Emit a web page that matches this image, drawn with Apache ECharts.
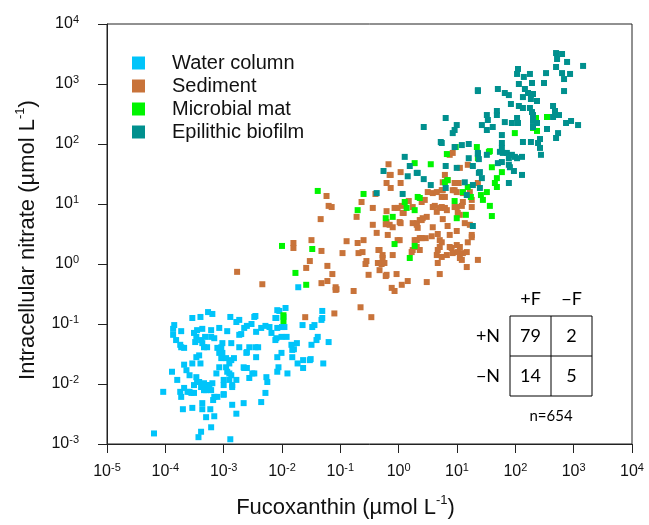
<!DOCTYPE html>
<html lang="en">

<head>
    <meta charset="UTF-8">
    <title>Nitrate vs fucoxanthin</title>
    <style>
        html, body { margin: 0; padding: 0; background: #fff; }
        #chart { width: 649px; height: 525px; }
    </style>
</head>

<body>
    <div id="chart"></div>
    <script src="https://cdn.jsdelivr.net/npm/echarts@6/dist/echarts.min.js"></script>
    <script type="text/javascript">
        // categories & colours
        const groups = ['Water column', 'Sediment', 'Microbial mat', 'Epilithic biofilm'];
        const groupColors = ['#00C4FA', '#C8733A', '#00F500', '#00908E'];

        // axis ranges (log10)
        const xRange = [1e-5, 1e4];
        const yRange = [1e-3, 1e4];

        // contingency table
        const colHeads = ['+F', '\u2212F'];
        const rowHeads = ['+N', '\u2212N'];
        const counts = [[79, 2], [14, 5]];
        const nLabel = 'n=654';

        // [fucoxanthin, nitrate] µmol/L
        const waterColumn = [
            [5.4e-4, 0.158], [6.4e-4, 0.147], [2.9e-4, 0.126], [4.0e-4, 0.131], [1.42e-4, 0.096], [1.87e-4, 0.076], [1.36e-4, 0.066], [1.53e-4, 0.054], [1.8e-4, 0.045], [2.1e-4, 0.040],
            [3.1e-4, 0.071], [3.5e-4, 0.079], [4.3e-4, 0.083], [3.4e-4, 0.061], [4.1e-4, 0.054], [4.8e-4, 0.061], [6.1e-4, 0.061], [6.9e-4, 0.058], [8.4e-4, 0.086], [1.15e-3, 0.076],
            [1.3e-3, 0.131], [1.65e-3, 0.108], [2.25e-3, 0.086], [2.0e-3, 0.068], [2.5e-3, 0.093], [3.0e-3, 0.1], [3.5e-3, 0.136], [3.6e-3, 0.074], [4.4e-3, 0.086], [5.2e-3, 0.093],
            [6.1e-3, 0.089], [6.6e-3, 0.071], [8.0e-3, 0.126], [9.0e-3, 0.165], [1.15e-2, 0.185], [1.06e-2, 0.131], [1.0e-2, 0.089], [8.3e-3, 0.086], [8.0e-3, 0.058], [9.8e-3, 0.061],
            [1.2e-2, 0.061], [1.45e-2, 0.045], [1.8e-2, 0.048], [1.5e-2, 0.037], [2.25e-2, 0.096], [3.3e-2, 0.089], [3.6e-2, 0.096], [4.9e-2, 0.165], [4.9e-2, 0.126], [4.75e-2, 0.117],
            [4.1e-2, 0.061], [3.9e-2, 0.054], [3.2e-2, 0.045], [6.3e-2, 0.050], [5.1e-2, 0.022], [3.0e-2, 0.025], [2.3e-2, 0.025], [2.3e-2, 0.0185], [1.85e-2, 0.022], [1.5e-2, 0.028],
            [1.24e-2, 0.015], [9.8e-3, 0.033], [8.3e-3, 0.028], [8.7e-3, 0.019], [5.4e-3, 0.013], [5.6e-3, 0.0108], [5.2e-3, 0.0071], [4.4e-3, 0.0050], [3.6e-3, 0.028], [3.9e-3, 0.041],
            [2.75e-3, 0.041], [2.45e-3, 0.033], [1.85e-3, 0.041], [2.2e-3, 0.019], [2.5e-3, 0.0185], [2.75e-3, 0.0126], [3.1e-3, 0.015], [1.65e-3, 0.0117], [1.4e-3, 0.0089], [1.35e-3, 0.025],
            [1.35e-3, 0.048], [9.5e-4, 0.048], [9.1e-4, 0.027], [1.1e-3, 0.019], [1.25e-3, 0.015], [1.0e-3, 0.0117], [1.0e-3, 0.0068], [8.4e-4, 0.019], [7.5e-4, 0.015], [6.4e-4, 0.0103],
            [6.9e-4, 0.0061], [6.1e-4, 0.0079], [5.0e-4, 0.0096], [4.6e-4, 0.0079], [4.1e-4, 0.0089], [3.5e-4, 0.0108], [3.4e-4, 0.013], [3.1e-4, 0.0096], [2.8e-4, 0.0071], [2.4e-4, 0.0074],
            [1.8e-4, 0.0074], [1.87e-4, 0.0061], [1.6e-4, 0.0117], [1.3e-4, 0.016], [9.2e-5, 0.0074], [2.1e-4, 0.021], [2.3e-4, 0.017], [2.6e-4, 0.014], [2.9e-4, 0.022], [3.4e-4, 0.028],
            [3.8e-4, 0.030], [4.3e-4, 0.048], [5.2e-4, 0.041], [7.8e-4, 0.040], [8.4e-4, 0.033], [2.0e-4, 0.0038], [2.9e-4, 0.0040], [4.3e-4, 0.0048], [4.3e-4, 0.0038], [5.9e-4, 0.0038],
            [6.9e-4, 0.0029], [5.0e-4, 0.0028], [6.1e-4, 0.0019], [4.1e-4, 0.0016], [3.7e-4, 0.0013], [6.4e-5, 0.0015], [1.3e-3, 0.0012], [1.4e-3, 0.0045], [1.65e-3, 0.0032], [2.2e-3, 0.0048],
            [1.9e-2, 0.41],
            [1.1e-3, 0.027], [1.25e-3, 0.022], [1.5e-3, 0.027], [1.15e-3, 0.016], [1.35e-3, 0.014], [1.25e-3, 0.0117], [1.0e-3, 0.0096], [1.4e-3, 0.0096], [3.8e-4, 0.0108], [4.6e-4, 0.0103],
            [5.7e-4, 0.0096], [5.0e-4, 0.0079], [2.1e-4, 0.0086], [2.6e-4, 0.0074], [3.1e-4, 0.0071], [7.8e-4, 0.0061], [6.6e-4, 0.0054], [1.0e-3, 0.0066], [2.5e-3, 0.034], [2.25e-3, 0.0185],
            [3.35e-3, 0.015], [3.5e-3, 0.041], [3.35e-3, 0.131], [1.85e-3, 0.117], [1.85e-3, 0.066], [7.7e-3, 0.054], [8.3e-3, 0.17], [1.87e-4, 0.041], [1.36e-4, 0.083], [6.1e-4, 0.079],
            [4.0e-4, 0.022], [1.1e-2, 0.089], [7.7e-3, 0.126], [1.6e-2, 0.038], [3.1e-2, 0.026], [8.3e-3, 0.016], [3.25e-4, 0.050], [4.6e-4, 0.041], [9.1e-4, 0.041], [9.5e-4, 0.033]
        ];

        const sediment = [
            [1.7e-3, 0.74], [4.6e-3, 0.46], [1.57e-2, 2.24], [1.57e-2, 1.85], [3.2e-2, 2.5], [3.0e-2, 1.12], [2.6e-2, 0.86], [4.75e-2, 1.65], [4.6e-2, 5.6], [6.0e-2, 0.93],
            [7.3e-2, 0.68], [6.0e-2, 0.52], [4.75e-2, 0.48], [8.3e-2, 0.41], [8.6e-2, 0.38], [0.128, 2.4], [0.109, 1.52], [0.169, 0.355], [0.222, 0.19], [0.34, 0.13],
            [7.9e-2, 0.15], [2.5e-2, 0.13], [6.3e-2, 9.3], [7.1e-2, 8.9], [5.8e-2, 13.6], [0.19, 6.1], [0.231, 10.8], [0.36, 8.6], [0.198, 2.24], [0.25, 2.5],
            [0.205, 1.52], [0.24, 1.58], [0.28, 1.12], [0.27, 1.0], [0.305, 0.66], [0.42, 3.3], [0.36, 4.5], [0.45, 1.71], [0.53, 1.26], [0.55, 1.04],
            [0.44, 1.04], [0.60, 0.63], [0.62, 7.6], [0.85, 8.6], [0.96, 8.6], [0.60, 4.6], [0.70, 4.5], [0.65, 3.05], [0.79, 1.41], [0.96, 2.5],
            [1.08, 4.8], [0.92, 0.68], [0.76, 0.40], [0.85, 0.355], [1.13, 0.45], [1.43, 0.52], [1.17, 7.1], [0.51, 1.0], [0.47, 0.79], [0.79, 4.1],
            [0.62, 22.4], [0.73, 18.5], [0.70, 30.5], [1.08, 22.4], [2.04, 4.8], [2.04, 2.5], [1.67, 1.58], [1.49, 11.2], [1.74, 8.9], [8.3e-2, 0.37],
            [0.40, 14.7], [8.45, 71], [7.5, 66], [11.2, 40], [6.2, 30.5], [6.7, 25], [5.7, 23], [3.15, 15.8], [3.84, 15.2], [4.5, 15.8],
            [5.7, 17], [5.48, 13.1], [6.2, 13.1], [8.45, 17], [9.9, 15.8], [10.7, 22.4], [2.8, 11.7], [2.48, 10.8], [4.16, 9.3], [5.06, 8.6],
            [6.2, 8.6], [9.9, 8.9], [12.6, 10.8], [17.9, 8.9], [4.5, 7.4], [6.7, 7.9], [17.9, 11.7], [10.3, 7.1], [11.2, 6.6], [3.03, 6.1],
            [2.58, 5.8], [2.3, 5.4], [1.74, 4.8], [2.04, 4.5], [2.12, 4.0], [5.7, 5.6], [13.6, 4.8], [16.6, 4.5], [6.9, 4.3], [9.9, 3.55],
            [4.68, 3.16], [3.69, 2.9], [2.91, 2.7], [2.3, 2.7], [1.88, 2.5], [7.5, 3.05], [17.9, 2.8], [5.06, 2.5], [15.3, 2.3], [2.04, 1.92],
            [2.3, 1.71], [5.06, 1.92], [4.68, 1.71], [9.9, 2.07], [11.2, 1.92], [8.1, 1.85], [4.5, 1.41], [5.48, 1.31], [6.7, 1.41], [8.45, 1.52],
            [10.3, 1.58], [12.6, 1.52], [14.7, 1.58], [11.2, 1.26], [22.8, 1.17], [4.68, 1.04], [14.7, 0.89], [5.06, 0.68], [3.03, 0.50], [0.67, 46],
            [0.73, 30.5], [1.08, 34], [9.1, 22.4], [22.8, 22.4], [15.3, 45], [12.6, 15.2], [16.6, 15.8], [1.13, 9.3], [1.22, 7.1], [3.84, 8.9],
            [5.48, 8.9], [9.1, 8.9], [12.1, 9.3], [0.62, 5.0], [1.04, 5.0], [2.48, 5.4], [3.84, 4.1], [17.9, 3.05], [1.04, 2.5], [2.48, 2.7],
            [5.48, 2.3], [7.5, 1.92], [0.47, 1.71], [0.53, 1.41], [1.74, 1.71], [12.1, 1.17], [0.57, 1.04], [0.62, 0.66], [6.9, 25], [9.1, 17],
            [5.48, 17]
        ];

        const microbialMat = [
            [4.1e-2, 16.5], [0.25, 14.7], [0.198, 7.9], [0.60, 5.8], [0.79, 6.1], [1.27, 10.8], [1.37, 8.6], [1.88, 7.9], [2.12, 13.1], [1.0e-2, 2.0],
            [3.3e-2, 1.78], [0.85, 2.15], [1.88, 2.0], [1.55, 1.26], [1.7e-2, 0.71], [2.6e-2, 0.45], [1.06e-2, 0.14], [1.06e-2, 0.112], [6.7, 68], [21.9, 89],
            [22.8, 58], [35.2, 74], [1.88, 48], [3.55, 46], [39.6, 41], [58.8, 34], [6.2, 23], [6.9, 25], [12.6, 15.8], [15.3, 19.2],
            [32.5, 15.8], [44.6, 22.4], [48.3, 27], [48.3, 19.2], [25.7, 14.1], [27.8, 11.7], [17.3, 13.1], [2.3, 12.6], [9.1, 11.2], [36.6, 9.3],
            [39.6, 6.3], [14.2, 6.6], [9.9, 5.8], [349, 282], [226, 271], [201, 185], [235, 165], [98, 152], [36.6, 76], [9.5, 89]
        ];

        const epilithicBiofilm = [
            [499, 3280], [632, 3160], [519, 2610], [771, 2330], [1450, 2000], [499, 1920], [111, 1780], [107, 1470], [178, 1470], [140, 1310],
            [336, 1520], [632, 1520], [867, 1470], [684, 1210], [310, 1040], [193, 1040], [115, 1000], [684, 763], [22.8, 763], [50.2, 826],
            [66, 708], [77.5, 654], [146, 826], [165, 708], [201, 681], [135, 606], [185, 562], [235, 521], [84, 464], [115, 430],
            [135, 398], [178, 398], [193, 341], [201, 304], [443, 430], [479, 355], [561, 304], [443, 282], [32.5, 304], [48.3, 355],
            [48.3, 304], [33.8, 251], [26.7, 207], [32.5, 171], [41, 192], [66, 232], [87.4, 224], [107, 271], [111, 224], [201, 242],
            [235, 224], [201, 192], [349, 178], [740, 224], [902, 242], [1190, 207], [58.8, 141], [135, 108], [185, 108], [265, 121],
            [540, 152], [499, 126], [265, 86], [275, 66], [58.8, 104], [58.8, 86], [61, 71], [71.6, 71], [87.4, 66], [98.4, 61],
            [130, 61], [77.5, 58], [22.8, 68], [32.5, 66], [50.2, 48], [77.5, 45], [6.4, 271], [2.69, 192], [9.9, 207], [9.1, 171],
            [8.45, 152], [5.27, 108], [12.1, 96], [15.9, 100], [9.1, 89], [23.7, 56], [1.27, 61], [1.55, 43], [2.12, 33], [0.55, 35.5],
            [6.4, 43], [9.9, 40], [18.7, 43], [23.7, 33], [26.7, 27], [94.6, 35.5], [130, 30.5], [77.5, 22.4], [2.69, 26], [3.55, 20.7],
            [6.4, 18.5], [13.6, 23], [18.7, 20.7], [24.7, 18.5], [1.17, 14.7], [0.42, 15.2], [14.7, 14.1], [1.43, 29], [2.04, 33], [18.7, 4.3],
            [5.48, 104], [15.9, 58], [22.8, 71], [24.7, 34], [54.4, 74], [58.8, 50], [107, 58], [245, 104], [80.7, 41], [22.8, 790]
        ];

        const seriesData = [waterColumn, sediment, microbialMat, epilithicBiofilm];

        const fontAxis = 'Liberation Sans';
        const fontTable = 'Lato';
        const ink = '#111';

        const chart = echarts.init(document.getElementById('chart'), null, { renderer: 'canvas' });

        const supRich = {
            b: { fontFamily: fontAxis, fontSize: 16, color: ink, lineHeight: 20 },
            s: { fontFamily: fontAxis, fontSize: 11, color: ink, lineHeight: 11, verticalAlign: 'top' }
        };
        const nameRich = {
            n: { fontFamily: fontAxis, fontSize: 22, color: ink, lineHeight: 28 },
            s: { fontFamily: fontAxis, fontSize: 13, color: ink, lineHeight: 14, verticalAlign: 'top' }
        };
        const powLabel = v => '{b|10}{s|' + Math.round(Math.log10(v)) + '}';

        function logAxis(range, splits, name, gap, labelGap, namePad) {
            return {
                type: 'log',
                logBase: 10,
                min: range[0],
                max: range[1],
                splitNumber: splits,
                name: name,
                nameLocation: 'middle',
                nameGap: gap,
                nameTextStyle: { rich: nameRich, padding: namePad },
                axisLine: { show: true, lineStyle: { color: '#222', width: 1 } },
                axisTick: { show: true, inside: false, length: 9, lineStyle: { color: '#222' } },
                minorTick: { show: false },
                splitLine: { show: false },
                axisLabel: { margin: labelGap, formatter: powLabel, rich: supRich }
            };
        }

        // table drawn as plain graphics
        const tX = 510, tY = 316, cw = 41, ch = 40;
        const tableGfx = [
            { type: 'rect', shape: { x: tX, y: tY, width: cw * 2, height: ch * 2 }, style: { fill: 'none', stroke: '#000', lineWidth: 1 } },
            { type: 'line', shape: { x1: tX + cw, y1: tY, x2: tX + cw, y2: tY + ch * 2 }, style: { stroke: '#000', lineWidth: 1 } },
            { type: 'line', shape: { x1: tX, y1: tY + ch, x2: tX + cw * 2, y2: tY + ch }, style: { stroke: '#000', lineWidth: 1 } }
        ];
        const txt = (s, x, y, size) => ({
            type: 'text', x: x, y: y,
            style: { text: s, font: size + 'px ' + fontTable, fill: '#000', align: 'center', verticalAlign: 'middle' }
        });
        colHeads.forEach((h, i) => tableGfx.push(txt(h, tX + cw * i + cw / 2, tY - 17, 18)));
        rowHeads.forEach((h, i) => tableGfx.push(txt(h, tX - 22, tY + ch * i + ch / 2, 18)));
        counts.forEach((row, i) => row.forEach((c, j) => tableGfx.push(txt(String(c), tX + cw * j + cw / 2, tY + ch * i + ch / 2, 18))));
        tableGfx.push(txt(nLabel, tX + cw, tY + ch * 2 + 20, 15));

        chart.setOption({
            animation: false,
            grid: { left: 107, right: 17, top: 24, bottom: 81, show: true, borderColor: '#222', borderWidth: 1 },
            legend: {
                data: groups.map(g => ({ name: g, icon: 'rect' })),
                orient: 'vertical',
                left: 127,
                top: 48,
                itemWidth: 13,
                itemHeight: 13,
                itemGap: 3,
                textStyle: { fontFamily: fontAxis, fontSize: 20, lineHeight: 20, color: ink, padding: [0, 0, 0, 22] }
            },
            xAxis: logAxis(xRange, 9, '{n|Fucoxanthin (\u00b5mol L}{s|-1}{n|)}', 50, 18, [0, 48, 0, 0]),
            yAxis: logAxis(yRange, 7, '{n|Intracellular nitrate (\u00b5mol L}{s|-1}{n|)}', 65, 28, [0, 12, 0, 0]),
            series: groups.map((g, i) => ({
                name: g,
                type: 'scatter',
                symbol: 'rect',
                symbolSize: 6,
                data: seriesData[i],
                itemStyle: { color: groupColors[i], opacity: 1 }
            })),
            graphic: tableGfx
        });
    </script>
</body>

</html>
